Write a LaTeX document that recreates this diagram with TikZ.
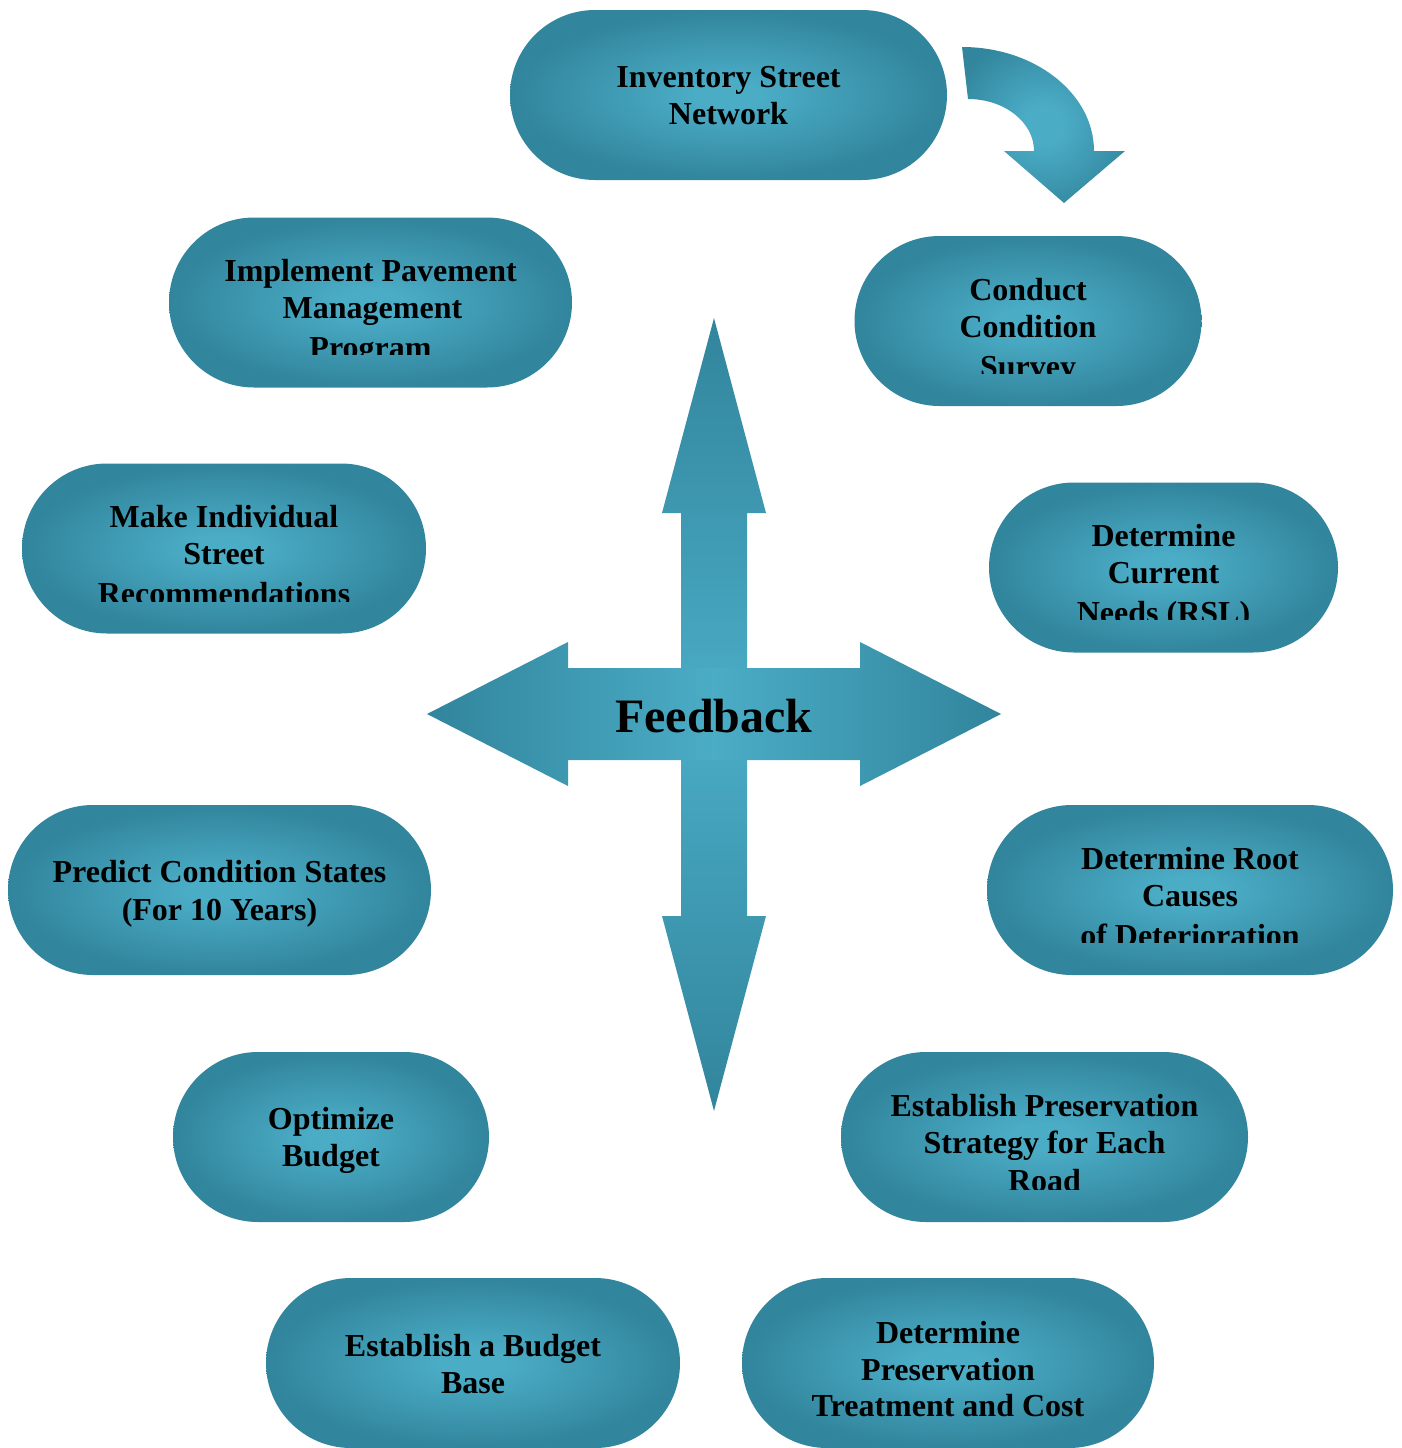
\documentclass[tikz,border=0pt]{standalone}
\usepackage{fontspec}
\setmainfont{Liberation Serif}
\definecolor{tdark}{HTML}{31859C}
\definecolor{tlight}{HTML}{4BACC6}
\pgfdeclareradialshading{nodeshade}{\pgfpointorigin}{color(0bp)=(tlight); color(4bp)=(tlight); color(25bp)=(tdark); color(50bp)=(tdark)}
\pgfdeclareradialshading{bendshade}{\pgfpointorigin}{color(0bp)=(tlight); color(6bp)=(tlight); color(30bp)=(tdark); color(50bp)=(tdark)}
\pgfdeclareverticalshading{vmirror}{100bp}{color(0bp)=(tdark); color(25bp)=(tdark); color(50bp)=(tlight); color(75bp)=(tdark); color(100bp)=(tdark)}
\pgfdeclarehorizontalshading{hmirror}{100bp}{color(0bp)=(tdark); color(25bp)=(tdark); color(50bp)=(tlight); color(75bp)=(tdark); color(100bp)=(tdark)}
\tikzset{
  stepbox/.style={rectangle, rounded corners=85pt, minimum height=170pt, inner sep=0pt, outer sep=0pt, draw=none, shade, shading=nodeshade},
  steptext/.style={anchor=base, inner sep=0pt, outer sep=0pt, text=black, font=\bfseries\fontsize{32}{37}\selectfont},
  bigtext/.style={anchor=base, inner sep=0pt, outer sep=0pt, text=black, font=\bfseries\fontsize{48}{56}\selectfont},
}
\begin{document}
\begin{tikzpicture}[x=1pt, y=-1pt]
\useasboundingbox (0,0) rectangle (1401,1448);

% ---- central feedback cross ----
\path[shade, shading=vmirror] (714,318) -- (766,513) -- (747,513) -- (747,916) -- (766,916) -- (714,1111) -- (662,916) -- (681,916) -- (681,513) -- (662,513) -- cycle;
\path[shade, shading=hmirror] (427,714) -- (568,642) -- (568,668) -- (860,668) -- (860,642) -- (1001,714) -- (860,786) -- (860,760) -- (568,760) -- (568,786) -- cycle;
\node[bigtext] (fb) at (714,732) {Feedback};

% ---- curved arrow ----
\path[shade, shading=bendshade] (962,47) arc[start angle=-90, end angle=0, x radius=132, y radius=104] -- (1125,151) -- (1064,203) -- (1004,151) -- (1034,151) arc[start angle=0, end angle=-90, x radius=66, y radius=52] -- cycle;

% ---- Inventory Street Network ----
\node[stepbox, minimum width=437pt] (inv) at (728.5,95) {};
\node[steptext] (inv-a) at (728.5,87) {Inventory Street};
\node[steptext] (inv-b) at (728.5,124) {Network};

% ---- Conduct Condition Survey ----
\node[stepbox, minimum width=347pt] (cond) at (1028,321) {};
\begin{scope}
\clip (850,230) rectangle (1210,373);
\node[steptext] (cond-a) at (1028,300) {Conduct};
\node[steptext] (cond-b) at (1028,337) {Condition};
\node[steptext] (cond-c) at (1028,377) {Survey};
\end{scope}

% ---- Determine Current Needs ----
\node[stepbox, minimum width=349pt] (curr) at (1163.5,567.5) {};
\begin{scope}
\clip (985,475) rectangle (1345,619.5);
\node[steptext] (curr-a) at (1163.5,546.5) {Determine};
\node[steptext] (curr-b) at (1163.5,583.5) {Current};
\node[steptext] (curr-c) at (1163.5,623.5) {Needs (RSL)};
\end{scope}

% ---- Determine Root Causes ----
\node[stepbox, minimum width=406pt] (root) at (1190,890) {};
\begin{scope}
\clip (980,800) rectangle (1400,942);
\node[steptext] (root-a) at (1190,869) {Determine Root};
\node[steptext] (root-b) at (1190,906) {Causes};
\node[steptext] (root-c) at (1190,946) {of Deterioration};
\end{scope}

% ---- Establish Preservation Strategy ----
\node[stepbox, minimum width=407pt] (strat) at (1044.5,1137) {};
\begin{scope}
\clip (835,1045) rectangle (1255,1189);
\node[steptext] (strat-a) at (1044.5,1116) {Establish Preservation};
\node[steptext] (strat-b) at (1044.5,1153) {Strategy for Each};
\node[steptext] (strat-c) at (1044.5,1191) {Road};
\end{scope}

% ---- Determine Preservation Treatment ----
\node[stepbox, minimum width=412pt] (treat) at (948,1363) {};
\node[steptext] (treat-a) at (948,1343) {Determine};
\node[steptext] (treat-b) at (948,1380) {Preservation};
\node[steptext] (treat-c) at (948,1416) {Treatment and Cost};

% ---- Establish a Budget Base ----
\node[stepbox, minimum width=414pt] (base) at (473,1363) {};
\node[steptext] (base-a) at (473,1356) {Establish a Budget};
\node[steptext] (base-b) at (473,1393) {Base};

% ---- Optimize Budget ----
\node[stepbox, minimum width=316pt] (opt) at (331,1137) {};
\node[steptext] (opt-a) at (331,1129) {Optimize};
\node[steptext] (opt-b) at (331,1166) {Budget};

% ---- Predict Condition States ----
\node[stepbox, minimum width=423pt] (pred) at (219.5,890) {};
\node[steptext] (pred-a) at (219.5,882) {Predict Condition States};
\node[steptext] (pred-b) at (219.5,920) {(For 10 Years)};

% ---- Make Individual Street Recommendations ----
\node[stepbox, minimum width=404pt] (make) at (224,548.5) {};
\begin{scope}
\clip (15,455) rectangle (435,601);
\node[steptext] (make-a) at (224,527.5) {Make Individual};
\node[steptext] (make-b) at (224,564.5) {Street};
\node[steptext] (make-c) at (224,604.5) {Recommendations};
\end{scope}

% ---- Implement Pavement Management Program ----
\node[stepbox, minimum width=403pt] (impl) at (370.5,302.5) {};
\begin{scope}
\clip (160,210) rectangle (580,354.5);
\node[steptext] (impl-a) at (370.5,281.5) {Implement Pavement};
\node[steptext] (impl-b) at (372.5,318.5) {Management};
\node[steptext] (impl-c) at (370.5,358.5) {Program};
\end{scope}
\end{tikzpicture}
\end{document}
